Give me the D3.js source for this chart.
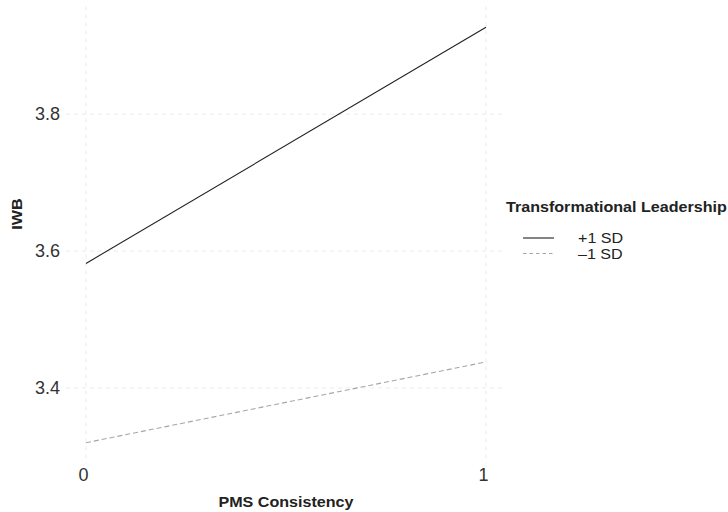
<!DOCTYPE html>
<html>
<head>
<meta charset="utf-8">
<script src="https://cdn.jsdelivr.net/npm/d3@7"></script>
<style>
  body { margin: 0; background: #fff; }
  svg { font-family: "Liberation Sans", Arial, sans-serif; }
</style>
</head>
<body>
<div id="chart"></div>
<script>
// Data
const xValues = [0, 1];
const seriesNames = ["+1 SD", "\u20131 SD"];
const highValues = [3.582, 3.927];
const lowValues = [3.320, 3.438];
const yTicks = [3.4, 3.6, 3.8];
const xTicks = [0, 1];

const series = [
    { name: seriesNames[0], values: highValues, color: "#222222", dash: null, width: 1.1 },
    { name: seriesNames[1], values: lowValues, color: "#a6a6a6", dash: "5,3", width: 1.1 }
];

// the reference titles are a bit wider than plain Arial
const SX = 1.15;

const width = 728, height = 512;
const margin = { top: 6.5, left: 66, right: 222, bottom: 48.5 };
const pw = width - margin.left - margin.right;
const ph = height - margin.top - margin.bottom;

const svg = d3.select("#chart")
    .append("svg")
    .attr("width", width)
    .attr("height", height);

const g = svg.append("g")
    .attr("transform", `translate(${margin.left},${margin.top})`);

// Scales with ggplot-style 5% expansion
const xr = [0, 1];
const xpad = 0.05 * (xr[1] - xr[0]);
const x = d3.scaleLinear().domain([xr[0] - xpad, xr[1] + xpad]).range([0, pw]);

const allY = highValues.concat(lowValues);
const yr = d3.extent(allY);
const ypad = 0.05 * (yr[1] - yr[0]);
const y = d3.scaleLinear().domain([yr[0] - ypad, yr[1] + ypad]).range([ph, 0]);

// Grid lines
g.selectAll(".hgrid")
    .data(yTicks)
    .enter().append("line")
    .attr("x1", 0).attr("x2", pw)
    .attr("y1", d => y(d)).attr("y2", d => y(d))
    .attr("stroke", "#ebebeb")
    .attr("stroke-width", 1)
    .attr("stroke-dasharray", "4,4");

g.selectAll(".vgrid")
    .data(xTicks)
    .enter().append("line")
    .attr("y1", 0).attr("y2", ph)
    .attr("x1", d => x(d)).attr("x2", d => x(d))
    .attr("stroke", "#ebebeb")
    .attr("stroke-width", 1)
    .attr("stroke-dasharray", "4,4");

// Axes (labels only, no lines)
const yAxis = g.append("g")
    .call(d3.axisLeft(y).tickValues(yTicks).tickFormat(d3.format(".1f")).tickSize(0).tickPadding(6));
yAxis.select(".domain").remove();
yAxis.selectAll("text")
    .attr("font-size", 18)
    .attr("fill", "#333")
    .attr("font-family", "'Liberation Sans', Arial, sans-serif");

const xAxis = g.append("g")
    .attr("transform", `translate(0,${ph})`)
    .call(d3.axisBottom(x).tickValues(xTicks).tickFormat(d3.format("d")).tickSize(0).tickPadding(5));
xAxis.select(".domain").remove();
xAxis.selectAll("text")
    .attr("font-size", 18)
    .attr("fill", "#333")
    .attr("font-family", "'Liberation Sans', Arial, sans-serif")
    .attr("dx", -3);

// Lines
const line = d3.line()
    .x((d, i) => x(xValues[i]))
    .y(d => y(d));

g.selectAll(".series")
    .data(series)
    .enter().append("path")
    .attr("d", d => line(d.values))
    .attr("fill", "none")
    .attr("stroke", d => d.color)
    .attr("stroke-width", d => d.width)
    .attr("stroke-dasharray", d => d.dash);

// Axis titles
svg.append("text")
    .attr("transform", `translate(${margin.left + pw / 2},507) scale(${SX},1)`)
    .attr("text-anchor", "middle")
    .attr("font-size", 14)
    .attr("font-weight", "bold")
    .attr("fill", "#222")
    .text("PMS Consistency");

svg.append("text")
    .attr("transform", `translate(22,214) rotate(-90) scale(${SX},1)`)
    .attr("text-anchor", "middle")
    .attr("font-size", 14)
    .attr("font-weight", "bold")
    .attr("fill", "#222")
    .text("IWB");

// Legend
const legend = svg.append("g").attr("transform", "translate(506,212)");
legend.append("text")
    .attr("transform", `scale(${SX},1)`)
    .attr("font-size", 14)
    .attr("font-weight", "bold")
    .attr("fill", "#222")
    .text("Transformational Leadership");

const items = legend.selectAll(".item")
    .data(series)
    .enter().append("g")
    .attr("transform", (d, i) => `translate(0,${26 + i * 15.5})`);

items.append("line")
    .attr("x1", 17).attr("x2", 48)
    .attr("y1", 0).attr("y2", 0)
    .attr("stroke", d => d.color)
    .attr("stroke-width", d => d.width)
    .attr("stroke-dasharray", d => d.dash ? "3.5,3" : null);

items.append("text")
    .attr("transform", `translate(72,5) scale(${SX},1)`)
    .attr("font-size", 14)
    .attr("fill", "#222")
    .text(d => d.name);
</script>
</body>
</html>
